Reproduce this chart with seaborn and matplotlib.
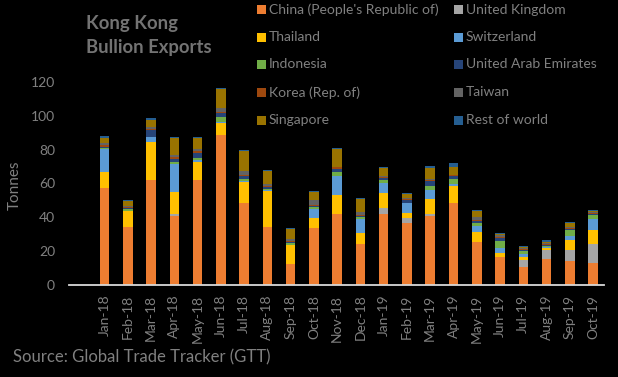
import numpy as np
import matplotlib
matplotlib.use("Agg")
import matplotlib.pyplot as plt
import seaborn as sns
from matplotlib.patches import Rectangle

months = ["Jan-18", "Feb-18", "Mar-18", "Apr-18", "May-18", "Jun-18", "Jul-18",
          "Aug-18", "Sep-18", "Oct-18", "Nov-18", "Dec-18", "Jan-19", "Feb-19",
          "Mar-19", "Apr-19", "May-19", "Jun-19", "Jul-19", "Aug-19", "Sep-19",
          "Oct-19"]

china = [57.5, 34.5, 62.2, 40.8, 62.1, 88.7, 48.5, 34.3, 12.4, 33.7, 42.2, 24.4,
         42.0, 36.4, 40.8, 48.5, 25.4, 16.5, 10.6, 15.4, 14.0, 13.0]
united_kingdom = [0, 0, 0, 1.2, 0, 0, 0, 0, 0, 0, 0, 0,
                  3.5, 3.2, 1.2, 0, 0, 0, 4.2, 5.3, 6.7, 11.4]
thailand = [9.5, 9.2, 22.3, 13.2, 10.6, 6.9, 12.4, 21.3, 11.2, 6.1, 11.0, 6.3,
            8.9, 3.0, 8.8, 10.0, 5.9, 2.4, 1.8, 1.2, 5.9, 8.3]
switzerland = [13.2, 0.2, 2.8, 16.3, 1.2, 0.6, 0.4, 0.4, 0, 5.1, 11.2, 8.3,
               5.9, 5.9, 5.5, 1.4, 3.6, 3.1, 1.8, 0.4, 2.4, 6.3]
indonesia = [0.8, 0.8, 0.4, 1.2, 1.2, 3.1, 1.5, 0.8, 1.2, 1.2, 2.4, 1.0,
             1.8, 0, 2.2, 2.7, 1.8, 4.0, 1.8, 0.6, 3.5, 2.5]
uae = [0.6, 0.6, 3.9, 1.6, 2.7, 2.4, 1.8, 1.2, 0.8, 0.6, 1.6, 0.8,
       1.3, 2.0, 3.0, 2.0, 0.9, 2.0, 0.6, 0.6, 0.6, 0.6]
korea = [1.0, 0.8, 0.8, 1.2, 1.2, 0.7, 0.6, 0.8, 0.4, 0.6, 1.2, 0.6,
         0.6, 0.3, 0.3, 0.4, 0.8, 0.6, 0.6, 0.6, 0.6, 0.6]
taiwan = [1.3, 0.4, 1.2, 1.1, 1.2, 2.4, 2.2, 1.2, 1.2, 2.9, 0.4, 1.9,
          0.6, 0.7, 1.0, 0.3, 1.6, 1.0, 0.6, 0.6, 0.4, 0.6]
singapore = [3.0, 3.2, 3.9, 10.3, 6.5, 10.9, 11.6, 7.5, 5.9, 4.9, 10.4, 7.5,
             4.5, 2.2, 6.1, 4.7, 3.5, 0.8, 0.6, 1.0, 2.6, 0.6]
rest_of_world = [1.2, 0.7, 1.2, 0.6, 0.6, 0.7, 0.8, 0.7, 0.6, 0.6, 0.6, 0.6,
                 0.6, 0.8, 1.2, 2.4, 0.8, 0.6, 0.6, 0.8, 0.6, 0.6]

series_names = ["China (People's Republic of)", "United Kingdom", "Thailand",
                "Switzerland", "Indonesia", "United Arab Emirates",
                "Korea (Rep. of)", "Taiwan", "Singapore", "Rest of world"]
series_values = [china, united_kingdom, thailand, switzerland, indonesia, uae,
                 korea, taiwan, singapore, rest_of_world]
series_colors = ["#ED7D31", "#A5A5A5", "#FFC000", "#5B9BD5", "#70AD47",
                 "#264478", "#9E480E", "#636363", "#997300", "#255E91"]

y_ticks = [0, 20, 40, 60, 80, 100, 120]

sns.set_style("white")
plt.rcParams["font.family"] = ["Lato", "DejaVu Sans"]

W, H = 618, 377
TXT = "#808080"
fig = plt.figure(figsize=(W / 100, H / 100), dpi=100, facecolor="black")
ax = fig.add_axes([69 / W, 1 - 285 / H, (604 - 69) / W, (285 - 82) / H])
ax.set_facecolor("black")

bottom = np.zeros(len(months))
for name, vals, col in zip(series_names, series_values, series_colors):
    sns.barplot(x=months, y=vals, order=months, color=col, saturation=1,
                width=0.41, bottom=bottom.copy(), errorbar=None, ax=ax,
                linewidth=0)
    bottom += np.asarray(vals, dtype=float)

ax.set_xlim(-1.53, 21.47)
ax.set_ylim(0, 120)
ax.set_yticks(y_ticks)
ax.set_yticklabels([str(t) for t in y_ticks])
ax.set_xlabel("")
ax.set_ylabel("")
ax.tick_params(axis="x", rotation=90, length=0, labelsize=10, colors=TXT, pad=7)
ax.tick_params(axis="y", length=0, labelsize=10, colors=TXT, pad=10)
for s in ["top", "right", "left"]:
    ax.spines[s].set_visible(False)
ax.spines["bottom"].set_color("#d9d9d9")
ax.spines["bottom"].set_linewidth(1.3)
ax.grid(False)

# Title
fig.text(86 / W, 1 - 29 / H, "Kong Kong", fontsize=13.3, fontweight="bold",
         color="#737373", va="baseline", ha="left")
fig.text(86 / W, 1 - 53 / H, "Bullion Exports", fontsize=13.3, fontweight="bold",
         color="#737373", va="baseline", ha="left")

# Y label
fig.text(15 / W, 1 - 185 / H, "Tonnes", rotation=90, fontsize=11, color=TXT,
         va="center", ha="center")

# Source
fig.text(13 / W, 1 - 357 / H, "Source: Global Trade Tracker (GTT)", fontsize=12,
         color=TXT, va="center", ha="left")

# Legend (two columns, row-wise order)
row_y = [9.5, 37, 64.5, 92.3, 120]
col_x = [257, 454]
for i, (name, col) in enumerate(zip(series_names, series_colors)):
    r, c = divmod(i, 2)
    x0 = col_x[c]
    yc = row_y[r]
    fig.add_artist(Rectangle((x0 / W, 1 - (yc + 4.5) / H), 9 / W, 9 / H,
                             transform=fig.transFigure, facecolor=col,
                             edgecolor="none"))
    fig.text((x0 + 12) / W, 1 - yc / H, name, fontsize=10, color=TXT,
             va="center", ha="left")

fig.savefig("out.png", dpi=100, facecolor="black")
